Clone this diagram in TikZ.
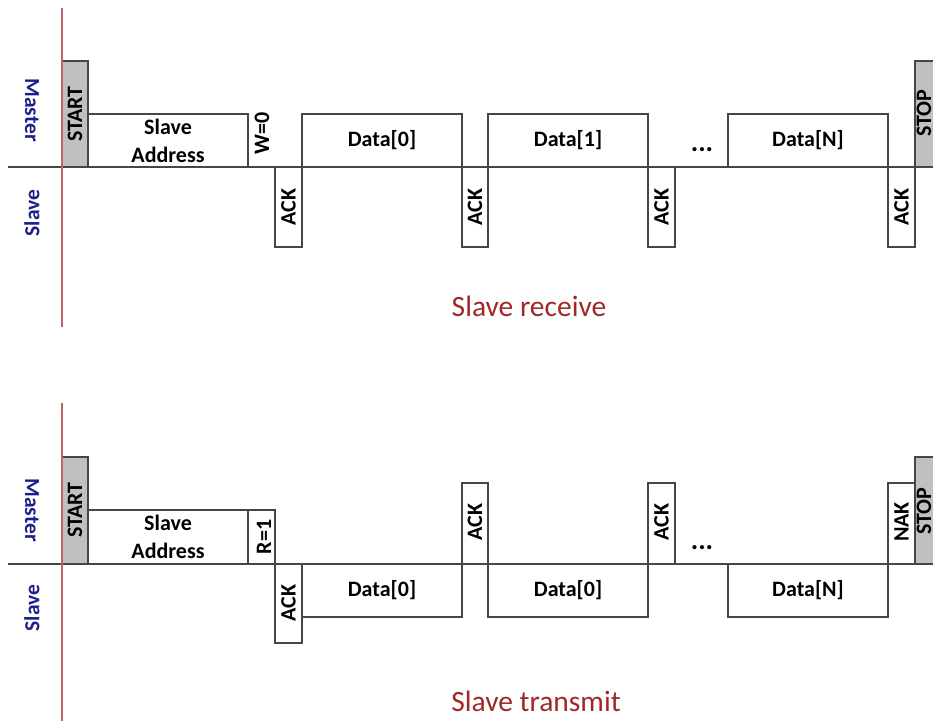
\documentclass[tikz,border=0pt]{standalone}
\usepackage{fontspec}
\setmainfont{Carlito}
\definecolor{wire}{RGB}{70,70,70}
\definecolor{boxgray}{RGB}{192,192,192}
\definecolor{redline}{RGB}{190,100,100}
\definecolor{lblue}{RGB}{30,30,140}
\definecolor{titlered}{RGB}{160,40,40}
\begin{document}
\begin{tikzpicture}[x=1pt,y=-1pt,
  seg/.style={draw=wire,line width=1.2pt,line join=miter},
  gbox/.style={draw=wire,fill=boxgray,line width=1.2pt},
  axisline/.style={draw=wire,line width=1.2pt},
  marker/.style={draw=redline,line width=1.4pt},
  txt/.style={inner sep=0pt,font=\fontsize{22}{28}\selectfont\bfseries,align=center},
  vtxt/.style={txt,rotate=90},
  dotstxt/.style={inner sep=0pt,font=\fontsize{28}{30}\selectfont\bfseries},
  side/.style={inner sep=0pt,font=\fontsize{21.5}{24}\selectfont\bfseries,text=lblue},
  title/.style={inner sep=0pt,font=\fontsize{29.5}{32}\selectfont,text=titlered}]
\useasboundingbox (0,0) rectangle (933,721);
\begin{scope}
\clip (0,0) rectangle (933,721);
% ---------------- top: slave receive ----------------
\draw[axisline] (8,167) -- (945,167);
\draw[gbox] (62,61) rectangle (88,167);
\draw[seg] (88,114) -- (248,114) -- (248,167);
\draw[seg] (275,167) -- (275,247) -- (302,247) -- (302,114) -- (462,114) -- (462,247)
  -- (488,247) -- (488,114) -- (648,114) -- (648,247) -- (675,247) -- (675,167);
\draw[seg] (728,167) -- (728,114) -- (888,114) -- (888,247) -- (915,247) -- (915,167);
\draw[gbox] (915,61) rectangle (950,167);
\draw[marker] (62,8) -- (62,327);
\node[side,rotate=-90] (m1) at (32,110) {Master};
\node[side,rotate=90] (s1) at (32,213) {Slave};
\node[vtxt] (st1) at (75,114) {START};
\node[txt] (sa1) at (168,141) {Slave\\Address};
\node[vtxt] (w0) at (262,133) {W=0};
\node[vtxt] (ack1a) at (288.5,207) {ACK};
\node[txt] (d10) at (382,140) {Data[0]};
\node[vtxt] (ack1b) at (475,207) {ACK};
\node[txt] (d11) at (568,140) {Data[1]};
\node[vtxt] (ack1c) at (661.5,207) {ACK};
\node[dotstxt] (dots1) at (702,150) {...};
\node[txt] (d1n) at (808,140) {Data[N]};
\node[vtxt] (ack1d) at (901.5,207) {ACK};
\node[vtxt] (sp1) at (924,113) {STOP};
\node[title] (t1) at (529,306) {Slave receive};
% ---------------- bottom: slave transmit ----------------
\draw[axisline] (8,564) -- (945,564);
\draw[gbox] (62,457) rectangle (88,564);
\draw[seg] (248,564) -- (248,510);
\draw[seg] (88,510) -- (275,510) -- (275,643) -- (302,643) -- (302,564);
\draw[seg] (302,564) -- (302,617) -- (462,617) -- (462,483) -- (488,483) -- (488,617)
  -- (648,617) -- (648,483) -- (675,483) -- (675,564);
\draw[seg] (728,564) -- (728,617) -- (888,617) -- (888,483) -- (915,483) -- (915,564);
\draw[gbox] (915,457) rectangle (950,564);
\draw[marker] (62,403) -- (62,721);
\node[side,rotate=-90] (m2) at (32,510) {Master};
\node[side,rotate=90] (s2) at (32,608) {Slave};
\node[vtxt] (st2) at (75,510) {START};
\node[txt] (sa2) at (168,537) {Slave\\Address};
\node[vtxt] (r1) at (264,537) {R=1};
\node[vtxt] (ack2a) at (288.5,603) {ACK};
\node[txt] (d20) at (382,590) {Data[0]};
\node[vtxt] (ack2b) at (475,522) {ACK};
\node[txt] (d21) at (568,590) {Data[0]};
\node[vtxt] (ack2c) at (661.5,522) {ACK};
\node[dotstxt] (dots2) at (702,548) {...};
\node[txt] (d2n) at (808,590) {Data[N]};
\node[vtxt] (nak) at (901.5,522) {NAK};
\node[vtxt] (sp2) at (924,511) {STOP};
\node[title] (t2) at (536,701) {Slave transmit};
\end{scope}
\end{tikzpicture}
\end{document}
